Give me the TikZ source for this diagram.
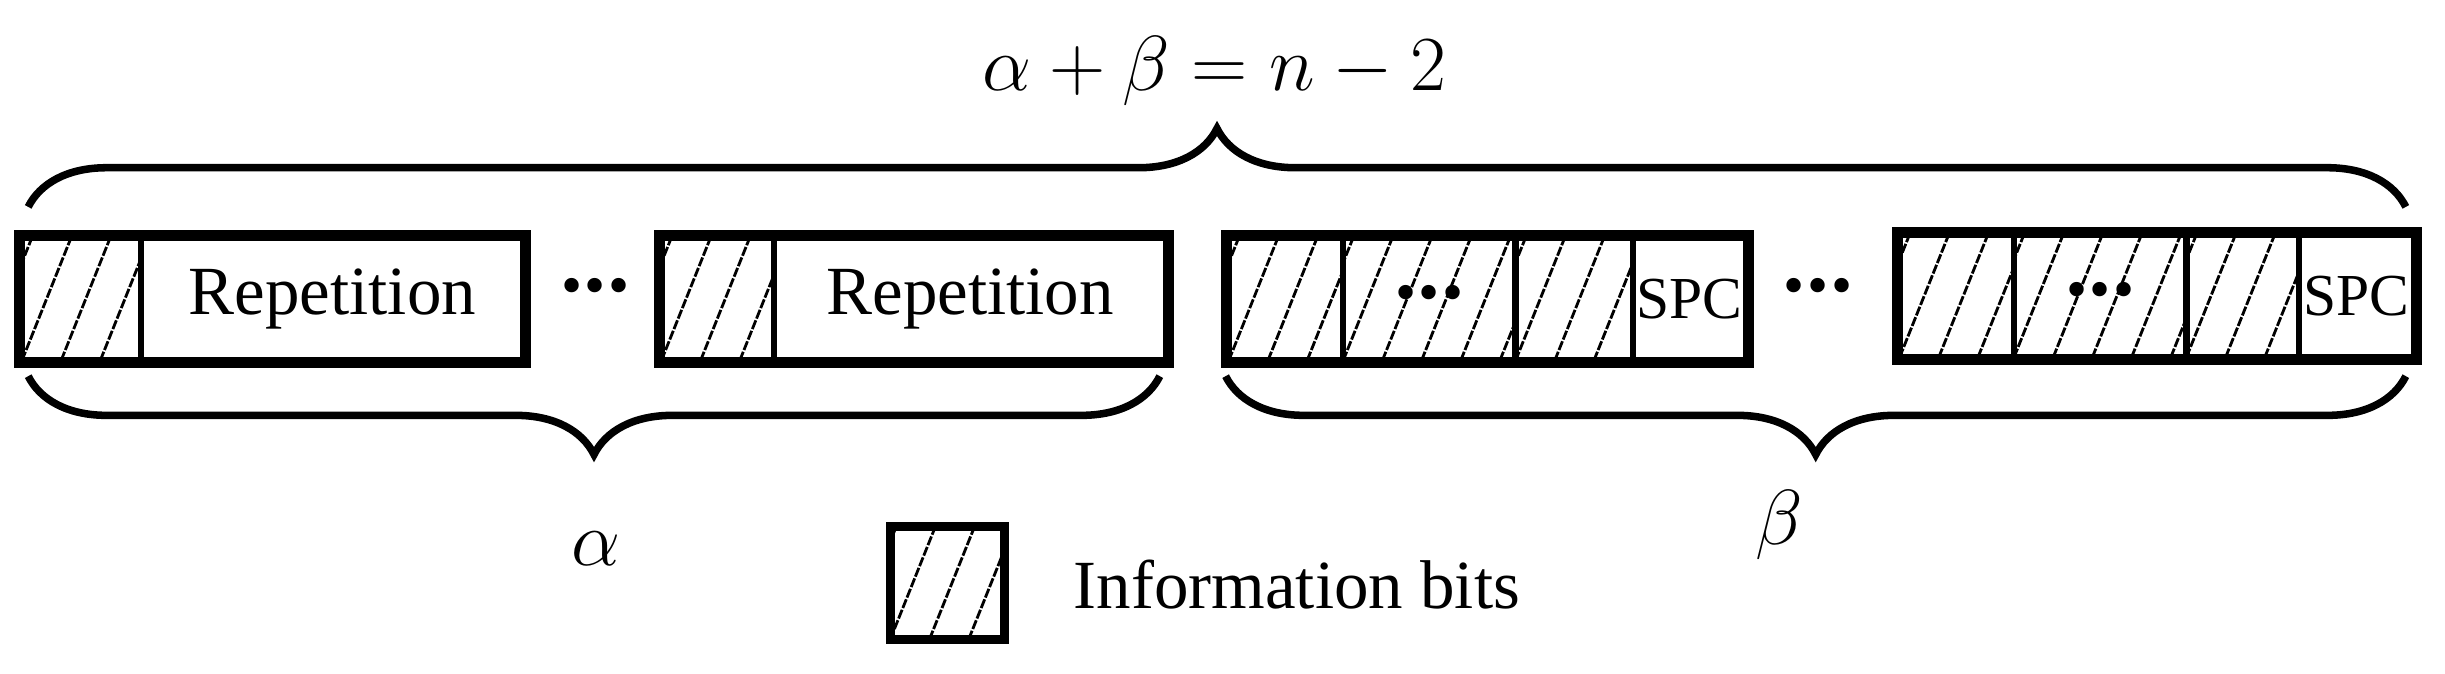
\documentclass[tikz,border=0pt]{standalone}
\usepackage{fontspec}
\setmainfont{Liberation Serif}
\usetikzlibrary{decorations.pathreplacing}
\newcommand{\mydots}{\scalebox{0.8}{\textbullet\hspace{1pt}\textbullet\hspace{1pt}\textbullet}}
\begin{document}
\begin{tikzpicture}[x=0.5pt,y=-0.5pt,
  cell/.style={draw,line width=2pt,inner sep=0pt,minimum height=39pt,anchor=north west,font=\fontsize{22}{24}\selectfont},
  hatch/.style={cell,path picture={\foreach \i in {-2,...,6}{\draw[line width=0.9pt,dash pattern=on 3pt off 0.6pt] ([xshift=\i*12.5pt]path picture bounding box.south west) -- ++(38,-95);}}},
  outer/.style={draw,line width=3pt},
  br/.style={decorate,decoration={brace,amplitude=25pt},line width=2.4pt},
  dts/.style={font=\fontsize{24}{24}\selectfont}]
\useasboundingbox (0,0) rectangle (1560,430);
% block 1
\node[hatch,minimum width=38pt] (h1) at (12,150) {};
\node[cell,minimum width=122pt] (r1) at (88,150) {Repetition};
\draw[outer] (h1.north west) rectangle (r1.south east);
\node[dts] (d1) at (380,186) {\mydots};
% block 2
\node[hatch,minimum width=36pt] (h2) at (420,150) {};
\node[cell,minimum width=125pt] (r2) at (492,150) {Repetition};
\draw[outer] (h2.north west) rectangle (r2.south east);
% block 3
\node[hatch,minimum width=36.5pt] (a3) at (782,150) {};
\node[hatch,minimum width=55pt,dts] (b3) at (855,150) {\mydots};
\node[hatch,minimum width=37.5pt] (c3) at (965,150) {};
\node[cell,minimum width=36pt,font=\fontsize{19}{20}\selectfont] (s3) at (1040,150) {SPC};
\draw[outer] (a3.north west) rectangle (s3.south east);
\node[dts] (d2) at (1160,186) {\mydots};
% block 4
\node[hatch,minimum width=36.5pt] (a4) at (1210,148) {};
\node[hatch,minimum width=55pt,dts] (b4) at (1283,148) {\mydots};
\node[hatch,minimum width=36pt] (c4) at (1393,148) {};
\node[cell,minimum width=36.5pt,font=\fontsize{19}{20}\selectfont] (s4) at (1465,148) {SPC};
\draw[outer] (a4.north west) rectangle (s4.south east);
% braces
\coordinate (tl) at (18,132); \coordinate (tr) at (1535,132);
\draw[br] (tl) -- (tr);
\coordinate (al) at (18,240); \coordinate (ar) at (740,240);
\draw[br] (ar) -- (al);
\coordinate (bl) at (782,240); \coordinate (bra) at (1535,240);
\draw[br] (bra) -- (bl);
\node[font=\fontsize{40}{40}\selectfont] (t) at (775,45) {$\alpha+\beta=n-2$};
\node[font=\fontsize{40}{40}\selectfont] (al1) at (380,350) {$\alpha$};
\node[font=\fontsize{40}{40}\selectfont] (be1) at (1135,335) {$\beta$};
% legend
\node[hatch,minimum width=36.5pt,minimum height=36pt,line width=3pt] (lg) at (565,333) {};
\node[anchor=west,font=\fontsize{22}{24}\selectfont] (lt) at (678,373) {Information bits};
\end{tikzpicture}
\end{document}
